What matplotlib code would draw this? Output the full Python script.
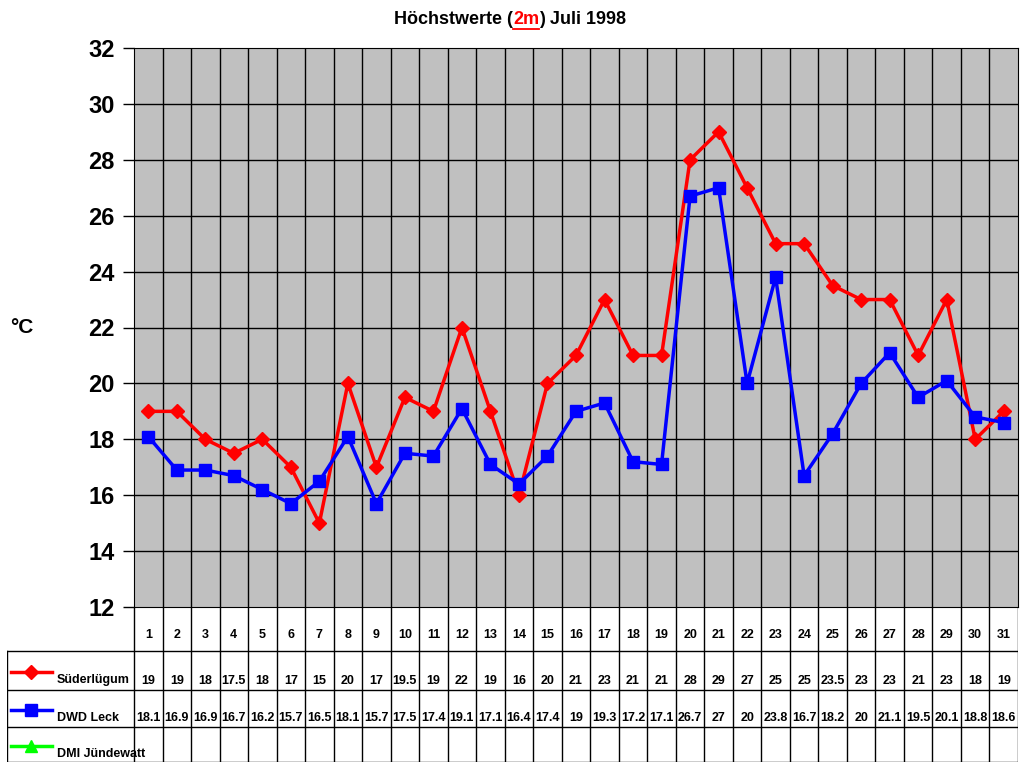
import matplotlib
matplotlib.use("Agg")
import matplotlib.pyplot as plt
from matplotlib.lines import Line2D

days = list(range(1, 32))
suederluegum = [19,19,18,17.5,18,17,15,20,17,19.5,19,22,19,16,20,21,23,21,21,28,29,27,25,25,23.5,23,23,21,23,18,19]
dwd_leck = [18.1,16.9,16.9,16.7,16.2,15.7,16.5,18.1,15.7,17.5,17.4,19.1,17.1,16.4,17.4,19,19.3,17.2,17.1,26.7,27,20,23.8,16.7,18.2,20,21.1,19.5,20.1,18.8,18.6]
series_names = ["Süderlügum", "DWD Leck", "DMI Jündewatt"]
yticks = list(range(12, 33, 2))

plt.rcParams['font.family'] = ['Liberation Sans', 'DejaVu Sans']
W, H = 1024, 768
fig = plt.figure(figsize=(W/100, H/100), dpi=100)

def px(l, t, r, b):
    return [l/W, 1-b/H, (r-l)/W, (b-t)/H]

ax = fig.add_axes(px(134, 48, 1018, 607))
ax.set_facecolor('#c0c0c0')
ax.set_xlim(0.5, 31.5)
ax.set_ylim(12, 32)
for d in range(1, 31):
    ax.axvline(d+0.5, color='black', lw=1)
for y in yticks[1:-1]:
    ax.axhline(y, color='black', lw=1)
ax.plot(days, suederluegum, color='#ff0000', lw=2.5, marker='D', ms=7, zorder=3)
ax.plot(days, dwd_leck, color='#0000ff', lw=2.5, marker='s', ms=8, zorder=4)
ax.set_xticks([])
ax.set_yticks(yticks)
ax.set_yticklabels([str(v) for v in yticks], fontsize=17, fontweight='bold')
ax.tick_params(axis='y', length=8, width=1, pad=6)
for s in ax.spines.values():
    s.set_color('black')

fig.text(10/W, 1-328/H, "°C", fontsize=15, fontweight='bold', ha='left', va='center')

# title
fig.canvas.draw()
r = fig.canvas.get_renderer()
parts = [("Höchstwerte (", 'black', False), ("2m", 'red', True), (") Juli 1998", 'black', False)]
widths = []
for s, c, u in parts:
    t = fig.text(0, 0, s, fontsize=13, fontweight='bold')
    widths.append(t.get_window_extent(r).width)
    t.remove()
x = (510 - sum(widths)/2)
for (s, c, u), w in zip(parts, widths):
    fig.text(x/W, 1-20/H, s, fontsize=13, fontweight='bold', color=c, va='center')
    if u:
        fig.add_artist(Line2D([x/W, (x+w)/W], [1-29/H, 1-29/H], color='red', lw=1.3))
    x += w

# table
tx = fig.add_axes(px(7, 607, 1018, 762))
cw = (1018-134)/31
left = 0.5 - 127/cw
tx.set_xlim(left, 31.5)
tx.set_ylim(762, 607)
tx.axis('off')
rows_y = [607, 651, 690, 727, 762]
kw = dict(color='black', lw=1)
for d in range(0, 32):
    tx.plot([d+0.5, d+0.5], [607, 762], **kw)
tx.plot([left, left], [651, 762], **kw)
for y in rows_y[1:]:
    tx.plot([left, 31.5], [y, y], **kw)
for d in days:
    tx.text(d, 635, str(d), ha='center', va='center', fontsize=9, fontweight='bold')
    tx.text(d, 681, f"{suederluegum[d-1]:g}", ha='center', va='center', fontsize=9, fontweight='bold')
    tx.text(d, 718, f"{dwd_leck[d-1]:g}", ha='center', va='center', fontsize=9, fontweight='bold')
mk = [('D', '#ff0000', 7), ('s', '#0000ff', 8), ('^', '#00ff00', 8)]
for i, (name, (m, c, s)) in enumerate(zip(series_names, mk)):
    yl = [672, 710, 746][i]
    lx1 = left + 45/cw
    tx.plot([left+4/cw, lx1], [yl, yl], color=c, lw=2.5)
    tx.plot([(left+4/cw+lx1)/2], [yl], marker=m, color=c, ms=s)
    tx.text(left + 50/cw, yl+8, name, ha='left', va='center', fontsize=9, fontweight='bold')

fig.savefig("out.png", dpi=100)
